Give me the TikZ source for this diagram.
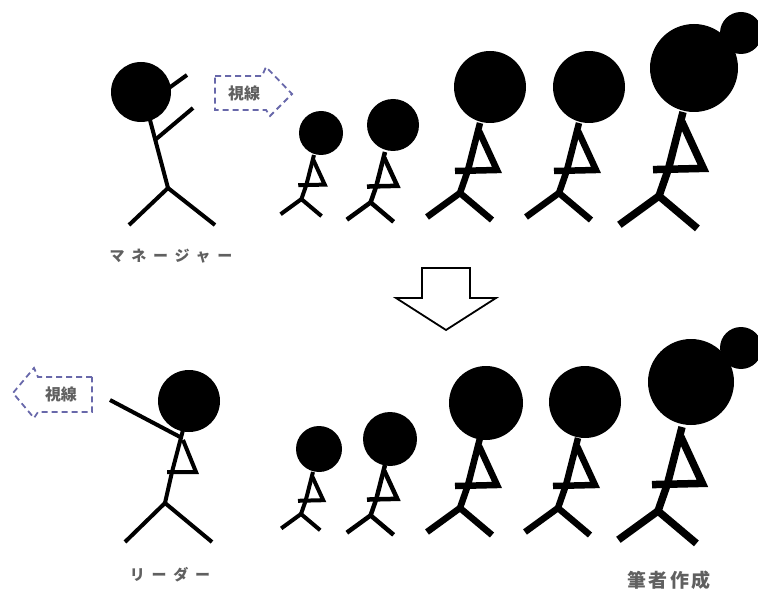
\documentclass[tikz,border=0pt]{standalone}
\usepackage{fontspec}
\newfontfamily\jp{Noto Sans CJK JP}
\newfontfamily\jpwide[LetterSpace=45]{Noto Sans CJK JP}
\newfontfamily\jpmid[LetterSpace=12]{Noto Sans CJK JP}
\definecolor{gazeblue}{RGB}{104,104,170}
\definecolor{labelgray}{RGB}{96,96,96}
% seated stick figure: neck at (#1,#2), body scale #3, stroke width #4
\newcommand\sitfig[4]{%
  \begin{scope}[shift={(#1,#2)},scale=#3,line width=#4]
    \draw (0,0) -- (-12,47) -- (-20,70);
    \draw (-1,8) -- (17,47) -- (-25,48);
    \draw (-53,94) -- (-20,70) -- (12,97);
  \end{scope}}
\begin{document}
\begin{tikzpicture}[x=1pt,y=-1pt,
  gaze/.style={draw=gazeblue,dashed,dash pattern=on 6pt off 4pt,line width=1.8pt},
  gazetext/.style={font=\jp\bfseries\fontsize{16}{16}\selectfont,text=labelgray},
  caption/.style={font=\jpwide\bfseries\fontsize{15}{15}\selectfont,text=labelgray}]
\useasboundingbox (0,0) rectangle (758,596);

% ---------- top row: manager ----------
\begin{scope}[line width=4pt]
  \draw (162,93) -- (187,75);
  \fill (141,92) circle (30);
  \draw (150,120) -- (168,188);
  \draw (155,140) -- (193,108);
  \draw (129,225) -- (168,188) -- (215,225);
\end{scope}
\draw[gaze] (215,76) -- (262,76) -- (266,67) -- (292,94) -- (270,116) -- (266,110) -- (215,110) -- cycle;
\node[gazetext] (gazeA) at (244,93) {視線};
\node[caption] (mgr) at (171,256) {マネージャー};

% seated members, top row
\fill (321,133) circle (22);
\sitfig{314}{155}{0.63}{4pt}
\fill (393,125) circle (26);
\sitfig{385}{152}{0.72}{4.5pt}
\fill (490,87) circle (36);
\sitfig{480}{123}{1}{6.5pt}
\fill (589,87) circle (36);
\sitfig{579}{123}{1}{6.5pt}
\fill (694,68) circle (44);
\fill (741,33) circle (21);
\sitfig{683}{112}{1.2}{7.5pt}

% ---------- transition arrow ----------
\draw[line width=1.8pt,fill=white,line join=miter]
  (422,268) -- (470,268) -- (470,298) -- (496,298) -- (446,330) -- (396,298) -- (422,298) -- cycle;

% ---------- bottom row: leader ----------
\begin{scope}[line width=4pt]
  \fill (189,401) circle (31);
  \draw (183,430) -- (172,472) -- (165,503);
  \draw (183,440) -- (196,472) -- (167,472);
  \draw (182,438) -- (110,400);
  \draw (125,542) -- (165,503) -- (212,542);
\end{scope}
\draw[gaze] (92,377) -- (38,377) -- (34,368) -- (13,393) -- (34,418) -- (38,412) -- (92,412) -- cycle;
\node[gazetext] (gazeB) at (61,394) {視線};
\node[caption] (ldr) at (170,575) {リーダー};

% seated members, bottom row
\fill (319,449) circle (23);
\sitfig{313}{472}{0.6}{4pt}
\fill (390,439) circle (27);
\sitfig{385}{465}{0.72}{4.5pt}
\fill (486,403) circle (37);
\sitfig{480}{438}{1}{6.5pt}
\fill (585,402) circle (36);
\sitfig{578}{438}{1}{6.5pt}
\fill (691,382) circle (43);
\fill (741,348) circle (21);
\sitfig{682}{427}{1.2}{7.5pt}

\node[font=\jpmid\bfseries\fontsize{19}{19}\selectfont,text=labelgray] (src) at (669,580) {筆者作成};
\end{tikzpicture}
\end{document}
